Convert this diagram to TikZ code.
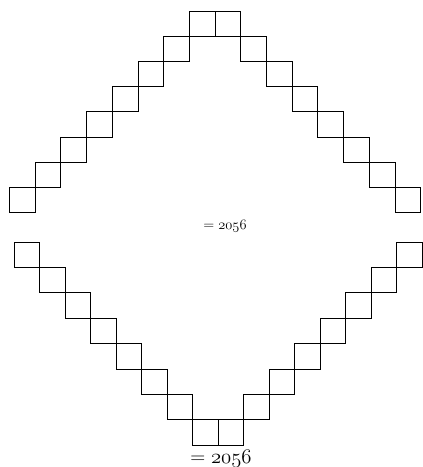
\documentclass[tikz,border=0pt]{standalone}
\begin{document}
\begin{tikzpicture}[x=1pt,y=-1pt,
  sq/.style={draw=black, line width=1pt},
  lbl/.style={inner sep=0pt, text=black}]
\useasboundingbox (0,0) rectangle (423,467);
% upper figure: apex at the top
\foreach \r in {0,...,7}{
  \draw[sq] ({9.5+(7-\r)*25.7},{11+\r*25.2}) rectangle ++(25.7,25.2);
  \draw[sq] ({9.5+(8+\r)*25.7},{11+\r*25.2}) rectangle ++(25.7,25.2);
}
% lower figure: apex at the bottom
\foreach \r in {0,...,7}{
  \draw[sq] ({14+\r*25.5},{242+\r*25.4}) rectangle ++(25.5,25.4);
  \draw[sq] ({14+(15-\r)*25.5},{242+\r*25.4}) rectangle ++(25.5,25.4);
}
\node[lbl, font=\Large] (toplabel) at (225,226) {$=\mathnormal{2056}$};
\node[lbl, font=\huge] (botlabel) at (221,459) {$=\mathnormal{2056}$};
\end{tikzpicture}
\end{document}
